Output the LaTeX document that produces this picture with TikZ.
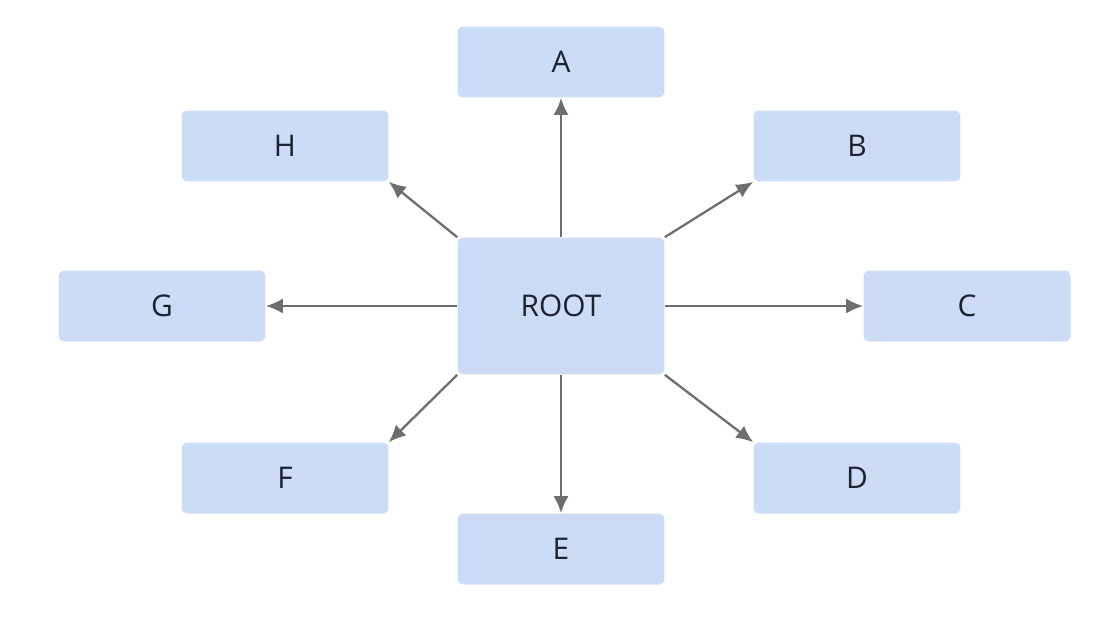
\documentclass[tikz,border=0pt]{standalone}
\usepackage{fontspec}
\setmainfont{Open Sans}
\usetikzlibrary{arrows.meta}
\definecolor{boxfill}{HTML}{CCDCF7}
\definecolor{linkgray}{HTML}{6E6E6E}
\definecolor{textdark}{HTML}{1E2230}
\tikzset{
    leaf/.style={fill=boxfill, rounded corners=0.12cm, minimum width=4.14cm, minimum height=1.42cm, inner sep=0pt, text=textdark, font=\fontsize{17}{20}\selectfont},
    link/.style={draw=linkgray, line width=1.3pt, -{Latex[length=0.34cm,width=0.3cm]}}
}
\begin{document}
\begin{tikzpicture}[x=0.02cm, y=-0.02cm]
        \useasboundingbox(0,0)rectangle(1104,616);
        \node[leaf, minimum height=2.74cm](root)at(561,306){ROOT};
        \node[leaf](a)at(561,62){A};
        \node[leaf](b)at(857,146){B};
        \node[leaf](c)at(967,306){C};
        \node[leaf](d)at(857,478){D};
        \node[leaf](e)at(561,549){E};
        \node[leaf](f)at(285,478){F};
        \node[leaf](g)at(162,306){G};
        \node[leaf](h)at(285,146){H};
        \draw[link](root.north)--(a.south);
        \draw[link](root.north east)--(b.south west);
        \draw[link](root.east)--(c.west);
        \draw[link](root.south east)--(d.north west);
        \draw[link](root.south)--(e.north);
        \draw[link](root.south west)--(f.north east);
        \draw[link](root.west)--(g.east);
        \draw[link](root.north west)--(h.south east);
    \end{tikzpicture}
\end{document}
